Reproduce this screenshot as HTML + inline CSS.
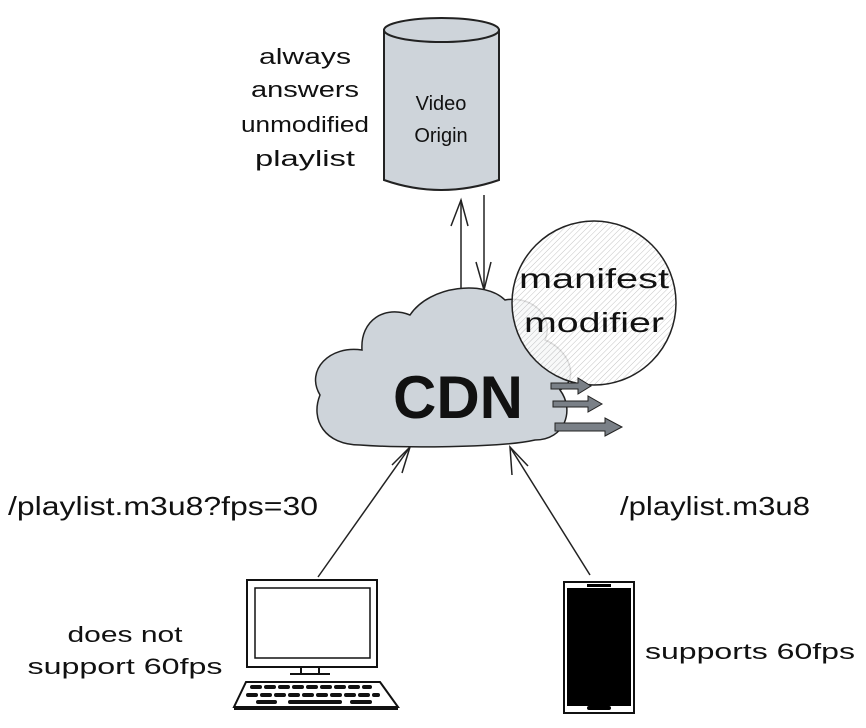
<!DOCTYPE html>
<html><head><meta charset="utf-8"><style>
body{margin:0;background:#fff}
svg text{font-family:"Liberation Sans",sans-serif;fill:#111}
</style></head><body>
<svg width="866" height="723" viewBox="0 0 866 723" xmlns="http://www.w3.org/2000/svg">
<defs>
<pattern id="h" width="4" height="4" patternUnits="userSpaceOnUse" patternTransform="rotate(45)">
<rect width="4" height="4" fill="#fff"/><line x1="0" y1="0" x2="0" y2="4" stroke="#bbb" stroke-width="1"/>
</pattern>
</defs>
<!-- cylinder -->
<path d="M384 30 L384 180 Q441 200 499 180 L499 30 Z" fill="#ced4da" stroke="#222" stroke-width="2"/>
<ellipse cx="441.5" cy="30" rx="57.5" ry="12" fill="#ced4da" stroke="#222" stroke-width="2"/>
<text x="441" y="110" font-size="20" text-anchor="middle">Video</text>
<text x="441" y="142" font-size="20" text-anchor="middle">Origin</text>
<g font-size="22" text-anchor="middle">
<text x="305" y="64" textLength="92" lengthAdjust="spacingAndGlyphs">always</text>
<text x="305" y="97" textLength="108" lengthAdjust="spacingAndGlyphs">answers</text>
<text x="305" y="132" textLength="128" lengthAdjust="spacingAndGlyphs">unmodified</text>
<text x="305" y="166" textLength="100" lengthAdjust="spacingAndGlyphs">playlist</text>
</g>
<!-- vertical arrows -->
<g stroke="#222" stroke-width="1.5" fill="none">
<line x1="461" y1="292" x2="461" y2="200"/><path d="M451 226 L461 200 L468 226"/>
<line x1="484" y1="195" x2="484" y2="290"/><path d="M476 262 L484 290 L491 262"/>
<line x1="318" y1="577" x2="410" y2="447"/><path d="M392 465 L410 447 L402 473"/>
<line x1="590" y1="575" x2="510" y2="447"/><path d="M512 475 L510 447 L528 466"/>
</g>
<!-- cloud -->
<path d="M360 445 C325 445 310 420 320 395 C305 370 330 345 362 350 C360 320 385 305 410 315 C430 285 485 280 505 300 C530 295 555 315 545 340 C570 350 580 380 560 390 C575 410 565 440 535 440 C500 448 400 448 360 445 Z" fill="#ced4da" stroke="#222" stroke-width="1.5"/>
<!-- circle -->
<circle cx="594" cy="303" r="82" fill="url(#h)" fill-opacity="0.85" stroke="#222" stroke-width="1.5"/>
<text x="458" y="418" font-size="60" font-weight="bold" text-anchor="middle">CDN</text>
<text x="594" y="288" font-size="28" text-anchor="middle" textLength="150" lengthAdjust="spacingAndGlyphs">manifest</text>
<text x="594" y="332" font-size="28" text-anchor="middle" textLength="140" lengthAdjust="spacingAndGlyphs">modifier</text>
<!-- fat arrows -->
<g fill="#7a8087" stroke="#222" stroke-width="1">
<path d="M551 383 L578 383 L578 378 L591 386 L578 394 L578 389 L551 389 Z"/>
<path d="M553 401 L588 401 L588 396 L602 404 L588 412 L588 407 L553 407 Z"/>
<path d="M555 423 L605 423 L605 418 L622 427 L605 436 L605 431 L555 431 Z"/>
</g>
<text x="8" y="515" font-size="26" textLength="310" lengthAdjust="spacingAndGlyphs">/playlist.m3u8?fps=30</text>
<text x="620" y="515" font-size="26" textLength="190" lengthAdjust="spacingAndGlyphs">/playlist.m3u8</text>
<!-- computer -->
<g stroke="#111" stroke-width="2" fill="#fff">
<rect x="247" y="580" width="130" height="87"/>
<rect x="255" y="588" width="115" height="70" stroke-width="1.5"/>
<line x1="301" y1="667" x2="301" y2="674"/><line x1="319" y1="667" x2="319" y2="674"/>
<line x1="290" y1="674" x2="330" y2="674"/>
<path d="M246 682 L380 682 L398 707 L234 707 Z"/>
<line x1="234" y1="709" x2="398" y2="709"/>
</g>
<g stroke="#111" stroke-width="4" stroke-linecap="round">
<path d="M252 687 H370" stroke-dasharray="8 6"/>
<path d="M248 695 H378" stroke-dasharray="8 6"/>
<path d="M258 702 H275 M290 702 H340 M352 702 H370"/>
</g>
<g font-size="22" text-anchor="middle">
<text x="125" y="642" textLength="115" lengthAdjust="spacingAndGlyphs">does not</text>
<text x="125" y="674" textLength="195" lengthAdjust="spacingAndGlyphs">support 60fps</text>
</g>
<!-- phone -->
<rect x="564" y="582" width="70" height="131" fill="#fff" stroke="#111" stroke-width="2"/>
<rect x="567" y="588" width="64" height="118" fill="#000"/>
<rect x="587" y="584" width="24" height="3" fill="#000"/>
<rect x="587" y="706" width="24" height="4" rx="2" fill="#000"/>
<text x="645" y="659" font-size="22" textLength="210" lengthAdjust="spacingAndGlyphs">supports 60fps</text>
</svg>
</body></html>
